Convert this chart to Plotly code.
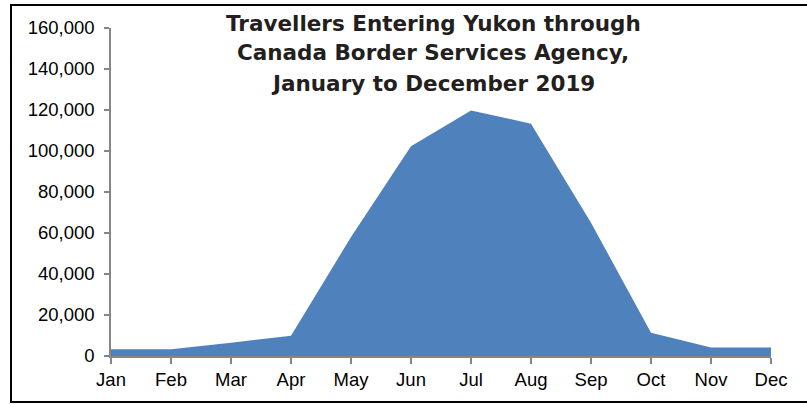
import plotly.graph_objects as go

months = ["Jan", "Feb", "Mar", "Apr", "May", "Jun", "Jul", "Aug", "Sep", "Oct", "Nov", "Dec"]
travellers = [3300, 3300, 6500, 9900, 58000, 102300, 119800, 113300, 65000, 11400, 4200, 4200]
y_ticks = [0, 20000, 40000, 60000, 80000, 100000, 120000, 140000, 160000]
title_lines = ["Travellers Entering Yukon through",
               "Canada Border Services Agency,",
               "January to December 2019"]

W, H = 807, 404
L, R, T, B = 111, 36, 28, 48
pw, ph = W - L - R, H - T - B

def px_x(x):
    return (x - L) / pw

def px_y(y):
    return (H - B - y) / ph

fig = go.Figure()
fig.add_trace(go.Scatter(
    x=list(range(len(months))), y=travellers,
    mode="none", fill="tozeroy", fillcolor="#4f81bd",
    line=dict(width=0), hoverinfo="skip", showlegend=False,
))

axis_font = dict(family="Liberation Sans, Arial, sans-serif", size=18.5, color="#000000")

fig.update_xaxes(
    range=[0, len(months) - 1], automargin=False,
    tickmode="array", tickvals=list(range(len(months))), ticktext=months,
    showgrid=False, zeroline=False,
    showline=True, linecolor="#868686", linewidth=1.5,
    ticks="outside", ticklen=6, tickcolor="#868686", tickwidth=1.5,
    tickfont=axis_font,
)
fig.update_yaxes(
    range=[0, 160000], automargin=False,
    tickmode="array", tickvals=y_ticks, ticktext=[f"{v:,}" for v in y_ticks],
    showgrid=False, zeroline=False,
    showline=True, linecolor="#868686", linewidth=1.5,
    ticks="outside", ticklen=5, tickcolor="#868686", tickwidth=1.5,
    tickfont=axis_font, ticklabelstandoff=6,
)

for i, line in enumerate(title_lines):
    fig.add_annotation(
        text=line, xref="paper", yref="paper",
        x=px_x(433), y=px_y(23 + 30 * i),
        xanchor="center", yanchor="middle", showarrow=False,
        font=dict(family="DejaVu Sans, sans-serif", size=21.5, color="#231f20", weight=700),
    )

# border (left, top, bottom)
x0, x1 = px_x(11), px_x(W + 5)
yt, yb = px_y(5), px_y(402)
fig.add_shape(type="path", xref="paper", yref="paper",
              path=f"M {x1} {yt} L {x0} {yt} L {x0} {yb} L {x1} {yb}",
              line=dict(color="#000000", width=2))

fig.update_layout(
    width=W, height=H,
    margin=dict(l=L, r=R, t=T, b=B, autoexpand=False),
    paper_bgcolor="white", plot_bgcolor="white",
    showlegend=False,
)

fig.write_html("out.html",
               config={"displayModeBar": False},
               post_script="document.body.style.margin='0';document.body.style.overflow='hidden';")
